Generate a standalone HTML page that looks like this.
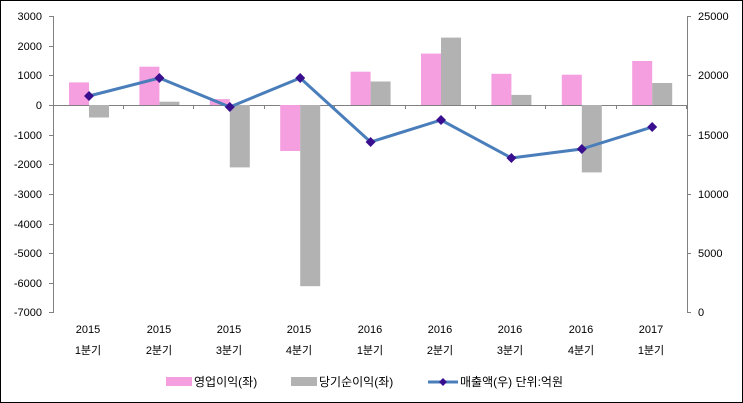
<!DOCTYPE html>
<html><head><meta charset="utf-8"><style>
body{margin:0;background:#fff}
svg{display:block;font-family:"Liberation Sans","Noto Sans CJK KR",sans-serif}
</style></head><body>
<svg width="743" height="403" viewBox="0 0 743 403">
<rect x="0.5" y="0.5" width="742" height="402" fill="#fff" stroke="#000"/>
<g stroke="#808080" stroke-width="1">
<line x1="53.5" y1="16" x2="53.5" y2="313"/>
<line x1="687.5" y1="16" x2="687.5" y2="313"/>
<line x1="53" y1="105.5" x2="687" y2="105.5"/>
<g id="lt">
<line x1="49" y1="16.5" x2="53" y2="16.5"/><line x1="49" y1="46.5" x2="53" y2="46.5"/><line x1="49" y1="75.5" x2="53" y2="75.5"/><line x1="49" y1="105.5" x2="53" y2="105.5"/><line x1="49" y1="135.5" x2="53" y2="135.5"/><line x1="49" y1="164.5" x2="53" y2="164.5"/><line x1="49" y1="194.5" x2="53" y2="194.5"/><line x1="49" y1="224.5" x2="53" y2="224.5"/><line x1="49" y1="253.5" x2="53" y2="253.5"/><line x1="49" y1="283.5" x2="53" y2="283.5"/><line x1="49" y1="312.5" x2="53" y2="312.5"/>
</g>
<line x1="687" y1="16.5" x2="691" y2="16.5"/><line x1="687" y1="75.5" x2="691" y2="75.5"/><line x1="687" y1="135.5" x2="691" y2="135.5"/><line x1="687" y1="194.5" x2="691" y2="194.5"/><line x1="687" y1="253.5" x2="691" y2="253.5"/><line x1="687" y1="312.5" x2="691" y2="312.5"/>
<line x1="123.5" y1="105" x2="123.5" y2="109"/><line x1="193.5" y1="105" x2="193.5" y2="109"/><line x1="264.5" y1="105" x2="264.5" y2="109"/><line x1="334.5" y1="105" x2="334.5" y2="109"/><line x1="405.5" y1="105" x2="405.5" y2="109"/><line x1="475.5" y1="105" x2="475.5" y2="109"/><line x1="545.5" y1="105" x2="545.5" y2="109"/><line x1="616.5" y1="105" x2="616.5" y2="109"/><line x1="686.5" y1="105" x2="686.5" y2="109"/>
</g>
<g font-size="11" text-anchor="end" fill="#000">
<text x="42" y="20">3000</text><text x="42" y="50">2000</text><text x="42" y="79">1000</text><text x="42" y="109">0</text><text x="42" y="139">-1000</text><text x="42" y="168">-2000</text><text x="42" y="198">-3000</text><text x="42" y="228">-4000</text><text x="42" y="257">-5000</text><text x="42" y="287">-6000</text><text x="42" y="316">-7000</text>
</g>
<g font-size="11" text-anchor="start" fill="#000">
<text x="698" y="20">25000</text><text x="698" y="79">20000</text><text x="698" y="139">15000</text><text x="698" y="198">10000</text><text x="698" y="257">5000</text><text x="698" y="316">0</text>
</g>
<g fill="#f59ee0">
<rect x="69" y="82.4" width="20" height="22.6"/>
<rect x="139.4" y="66.7" width="20" height="38.3"/>
<rect x="209.8" y="99.1" width="20" height="5.9"/>
<rect x="280.2" y="105" width="20" height="46"/>
<rect x="350.6" y="71.7" width="20" height="33.3"/>
<rect x="421" y="53.6" width="20" height="51.4"/>
<rect x="491.4" y="73.8" width="20" height="31.2"/>
<rect x="561.8" y="74.7" width="20" height="30.3"/>
<rect x="632.2" y="61" width="20" height="44"/>
</g>
<g fill="#b2b2b2">
<rect x="89" y="105" width="20" height="12.5"/>
<rect x="159.4" y="101.7" width="20" height="3.3"/>
<rect x="229.8" y="105" width="20" height="62.4"/>
<rect x="300.2" y="105" width="20" height="181.2"/>
<rect x="370.6" y="81.5" width="20" height="23.5"/>
<rect x="441" y="37.6" width="20" height="67.4"/>
<rect x="511.4" y="94.9" width="20" height="10.1"/>
<rect x="581.8" y="105" width="20" height="67.4"/>
<rect x="652.2" y="83" width="20" height="22"/>
</g>
<polyline points="89,96 159.4,78 229.8,107 300.2,78 370.6,142 441,120 511.4,158 581.8,149 652.2,127" fill="none" stroke="#4a7ebb" stroke-width="3" stroke-linejoin="round"/>
<g fill="#3a0f8f">
<path d="M89,91 l5,5 l-5,5 l-5,-5z"/><path d="M159.4,73 l5,5 l-5,5 l-5,-5z"/><path d="M229.8,102 l5,5 l-5,5 l-5,-5z"/><path d="M300.2,73 l5,5 l-5,5 l-5,-5z"/><path d="M370.6,137 l5,5 l-5,5 l-5,-5z"/><path d="M441,115 l5,5 l-5,5 l-5,-5z"/><path d="M511.4,153 l5,5 l-5,5 l-5,-5z"/><path d="M581.8,144 l5,5 l-5,5 l-5,-5z"/><path d="M652.2,122 l5,5 l-5,5 l-5,-5z"/>
</g>
<g font-size="11" text-anchor="middle" fill="#000">
<text x="88" y="333">2015</text><text x="159" y="333">2015</text><text x="229" y="333">2015</text><text x="299" y="333">2015</text><text x="370" y="333">2016</text><text x="440" y="333">2016</text><text x="510" y="333">2016</text><text x="581" y="333">2016</text><text x="651" y="333">2017</text>
<text x="88" y="354">1분기</text><text x="159" y="354">2분기</text><text x="229" y="354">3분기</text><text x="299" y="354">4분기</text><text x="370" y="354">1분기</text><text x="440" y="354">2분기</text><text x="510" y="354">3분기</text><text x="581" y="354">4분기</text><text x="651" y="354">1분기</text>
</g>
<rect x="166" y="377" width="26" height="9" fill="#f59ee0"/>
<text x="194" y="386" font-size="12">영업이익(좌)</text>
<rect x="291" y="377" width="26" height="9" fill="#b2b2b2"/>
<text x="319" y="386" font-size="12">당기순이익(좌)</text>
<line x1="428" y1="382" x2="458" y2="382" stroke="#4a7ebb" stroke-width="3"/>
<path d="M443,378 l4,4 l-4,4 l-4,-4z" fill="#3a0f8f"/>
<text x="460" y="386" font-size="12">매출액(우)  단위:억원</text>
</svg>
</body></html>
